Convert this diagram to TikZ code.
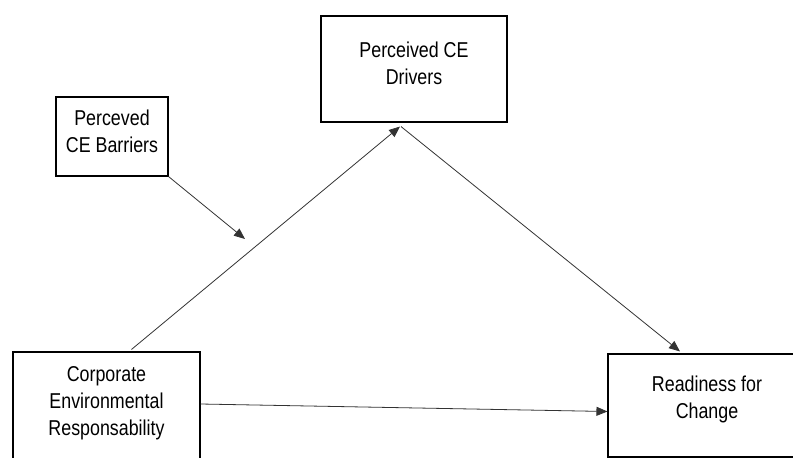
\documentclass[tikz,border=0pt]{standalone}
\usepackage{fontspec}
\setmainfont[FakeStretch=0.83]{Liberation Sans}
\usetikzlibrary{arrows.meta}
\tikzset{
  boxshape/.style={draw=black, line width=1.1pt, rectangle, inner sep=0pt},
  boxtext/.style={align=center, inner sep=0pt, font=\fontsize{21.5pt}{27pt}\selectfont},
  conn/.style={draw=black!80, line width=0.8pt, -{Triangle[length=11pt,width=9pt]}}
}
\begin{document}
\begin{tikzpicture}[x=1pt,y=-1pt]
\useasboundingbox (0,0) rectangle (793,458);
\clip (0,0) rectangle (793,458);
% boxes
\node[boxshape, minimum width=112pt, minimum height=79pt] (bar) at (112,136.5) {};
\node[boxshape, minimum width=186pt, minimum height=106pt] (drv) at (414,69) {};
\node[boxshape, minimum width=187pt, minimum height=120pt] (cer) at (106.5,412) {};
\node[boxshape, minimum width=198pt, minimum height=103pt] (rdy) at (707,405.5) {};
% texts
\node[boxtext] (bart) at (112,131) {Perceved\\CE Barriers};
\node[boxtext] (drvt) at (414,63) {Perceived CE\\Drivers};
\node[boxtext] (cert) at (106.5,403) {Corporate\\Environmental\\Responsability};
\node[boxtext] (rdyt) at (707,399) {Readiness for\\Change};
% connectors
\coordinate (mod) at (245,239);
\draw[conn] ([xshift=25pt,yshift=2pt]cer.north) -- ([xshift=-14pt,yshift=-4pt]drv.south);
\draw[conn] ([xshift=-13pt,yshift=-4pt]drv.south) -- ([xshift=-27pt,yshift=2pt]rdy.north);
\draw[conn] (bar.south east) -- (mod);
\draw[conn] ([yshift=8pt]cer.east) -- ([yshift=-6pt]rdy.west);
\end{tikzpicture}
\end{document}
